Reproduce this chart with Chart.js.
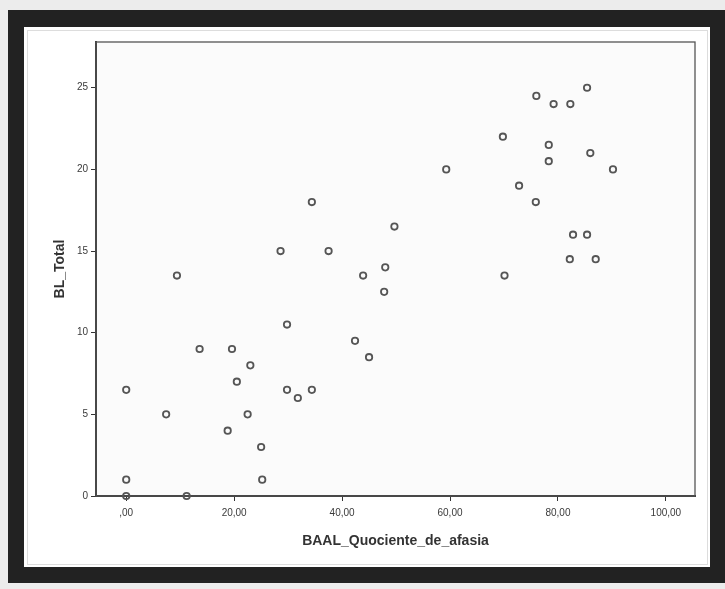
<!DOCTYPE html>
<html>
<head>
<meta charset="utf-8">
<script src="https://cdn.jsdelivr.net/npm/chart.js@4/dist/chart.umd.min.js"></script>
<style>
  html, body { margin: 0; padding: 0; background: #ebebeb; }
  canvas { display: block; }
</style>
</head>
<body>
<canvas id="scatterChart" width="725" height="589"></canvas>
<script>
// BAAL_Quociente_de_afasia (x) y BL_Total (y)
const aphasiaQuotient = [0, 0, 0, 7.4, 9.4, 11.2, 13.6, 18.8, 19.6, 20.5, 22.5, 23, 25, 25.2,
    28.6, 29.8, 29.8, 31.8, 34.4, 34.4, 37.5, 42.4, 43.9, 45, 47.8, 48, 49.7, 59.3,
    69.8, 70.1, 72.8, 75.9, 76, 78.3, 78.3, 79.2, 82.3, 82.2, 82.8, 85.4, 85.4, 86, 87, 90.2];
const blTotal = [0, 1, 6.5, 5, 13.5, 0, 9, 4, 9, 7, 5, 8, 3, 1,
    15, 10.5, 6.5, 6, 6.5, 18, 15, 9.5, 13.5, 8.5, 12.5, 14, 16.5, 20,
    22, 13.5, 19, 18, 24.5, 21.5, 20.5, 24, 24, 14.5, 16, 25, 16, 21, 14.5, 20];

const xTickValues = [0, 20, 40, 60, 80, 100];
const yTickValues = [0, 5, 10, 15, 20, 25];
const xAxisTitle = 'BAAL_Quociente_de_afasia';
const yAxisTitle = 'BL_Total';

const FONT = "'Liberation Sans', Arial, sans-serif";

// marco oscuro alrededor del gráfico y caja del área de trazado
const framePlugin = {
    id: 'frame',
    beforeDraw(chart) {
        const ctx = chart.ctx;
        const a = chart.chartArea;
        ctx.save();
        ctx.fillStyle = '#ececec';
        ctx.fillRect(0, 0, chart.width, chart.height);
        ctx.fillStyle = '#222222';
        ctx.fillRect(8, 10, 717, 573);
        ctx.fillStyle = '#ffffff';
        ctx.fillRect(24, 27, 686, 540);
        ctx.strokeStyle = '#dddddd';
        ctx.lineWidth = 1;
        ctx.strokeRect(27.5, 30.5, 680, 534);
        ctx.fillStyle = '#fbfbfb';
        ctx.fillRect(a.left, a.top, a.width, a.height);
        ctx.restore();
    },
    beforeDatasetsDraw(chart) {
        const ctx = chart.ctx;
        const a = chart.chartArea;
        ctx.save();
        ctx.strokeStyle = '#555555';
        ctx.lineWidth = 1.3;
        ctx.strokeRect(a.left, a.top, a.width, a.height);
        ctx.restore();
    }
};

function formatComma(v) {
    return v === 0 ? ',00' : v.toFixed(2).replace('.', ',');
}

const points = aphasiaQuotient.map((x, i) => ({ x: x, y: blTotal[i] }));

new Chart(document.getElementById('scatterChart'), {
    type: 'scatter',
    data: {
        datasets: [{
            data: points,
            backgroundColor: 'rgba(0,0,0,0)',
            borderColor: '#555555',
            borderWidth: 1.8,
            pointRadius: 3.2,
            pointHoverRadius: 3.2,
            clip: false
        }]
    },
    options: {
        responsive: false,
        animation: false,
        devicePixelRatio: 1,
        events: [],
        layout: { padding: { left: 24, top: 42, right: 30, bottom: 33 } },
        plugins: {
            legend: { display: false },
            tooltip: { enabled: false }
        },
        scales: {
            x: {
                type: 'linear',
                min: -5.6,
                max: 105.4,
                afterBuildTicks: axis => { axis.ticks = xTickValues.map(v => ({ value: v })); },
                afterFit: axis => { axis.height = 60; },
                grid: { drawOnChartArea: false, tickLength: 5, color: '#333333', lineWidth: 1 },
                border: { display: true, color: '#333333', width: 2 },
                ticks: {
                    autoSkip: false,
                    maxRotation: 0,
                    padding: 6,
                    color: '#3a3a3a',
                    font: { family: FONT, size: 10 },
                    callback: v => formatComma(v)
                },
                title: {
                    display: true,
                    text: xAxisTitle,
                    color: '#333333',
                    font: { family: FONT, size: 14, weight: 'bold' },
                    padding: { top: 0, bottom: 6 }
                }
            },
            y: {
                type: 'linear',
                min: 0,
                max: 27.8,
                afterBuildTicks: axis => { axis.ticks = yTickValues.map(v => ({ value: v })); },
                afterFit: axis => { axis.width = 72; },
                grid: { drawOnChartArea: false, tickLength: 5, color: '#333333', lineWidth: 1 },
                border: { display: true, color: '#333333', width: 2 },
                ticks: {
                    padding: 3,
                    color: '#3a3a3a',
                    font: { family: FONT, size: 10 }
                },
                title: {
                    display: true,
                    text: yAxisTitle,
                    color: '#333333',
                    font: { family: FONT, size: 14, weight: 'bold' },
                    padding: { top: 28, bottom: 0 }
                }
            }
        }
    },
    plugins: [framePlugin]
});
</script>
</body>
</html>
